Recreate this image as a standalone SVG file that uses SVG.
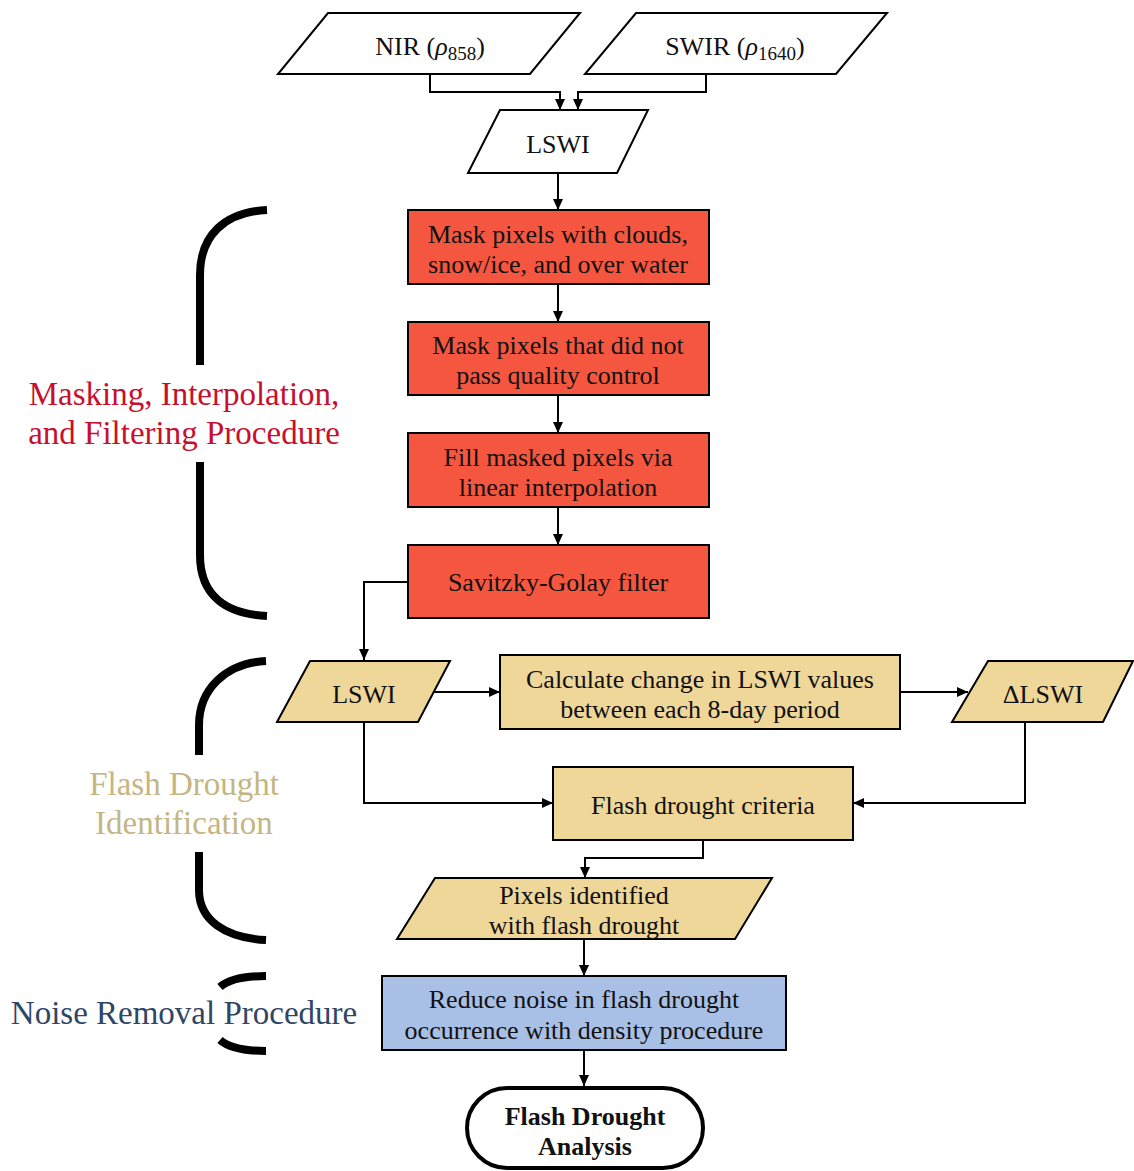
<svg xmlns="http://www.w3.org/2000/svg" width="1134" height="1171" viewBox="0 0 1134 1171">
<defs>
<marker id="arr" markerUnits="userSpaceOnUse" markerWidth="11" markerHeight="10" refX="11" refY="5" orient="auto">
<path d="M0,0 L11,5 L0,10 z" fill="#000"/>
</marker>
<style>
.t{font-family:'Liberation Serif','DejaVu Serif',serif;font-size:26px;fill:#111;text-anchor:middle}
.b{font-weight:bold}
.io{fill:#fff;stroke:#000;stroke-width:2}
.red{fill:#f5563f;stroke:#000;stroke-width:2}
.yel{fill:#efd699;stroke:#000;stroke-width:2}
.blu{fill:#a8bfe6;stroke:#000;stroke-width:2}
.c{fill:none;stroke:#000;stroke-width:2;marker-end:url(#arr)}
.br{fill:none;stroke:#000;stroke-width:8}
.lab{font-family:'Liberation Serif','DejaVu Serif',serif;font-size:33px;text-anchor:middle}
</style>
</defs>
<rect width="1134" height="1171" fill="#fff"/>

<g id="labels">
<text class="lab" x="184" y="405" fill="#c8102e">Masking, Interpolation,</text>
<text class="lab" x="184" y="444" fill="#c8102e">and Filtering Procedure</text>
<text class="lab" x="184" y="795" fill="#c4b682">Flash Drought</text>
<text class="lab" x="184" y="834" fill="#c4b682">Identification</text>
<text class="lab" x="184" y="1024" fill="#2f4664">Noise Removal Procedure</text>
</g>

<g id="brackets">
<path class="br" d="M267,210 C225,212 200,235 200,275 V365"/>
<path class="br" d="M200,462 V555 C200,595 225,614 267,616"/>
<path class="br" d="M266,661 C225,663 199,690 199,725 V755"/>
<path class="br" d="M199,852 V890 C199,920 225,938 266,940"/>
<path class="br" d="M266,976 C245,976 228,980 220,987"/>
<path class="br" d="M220,1040 C228,1047 245,1051 266,1051"/>
</g>

<g id="connectors">
<path class="c" d="M430,73 V92 H560 V110"/>
<path class="c" d="M706,73 V92 H578 V110"/>
<path class="c" d="M558,173 V210"/>
<path class="c" d="M558,284 V322"/>
<path class="c" d="M558,395 V433"/>
<path class="c" d="M558,507 V545"/>
<path class="c" d="M408,582 H364 V660"/>
<path class="c" d="M433,692 H500"/>
<path class="c" d="M900,692 H968"/>
<path class="c" d="M364,722 V803 H553"/>
<path class="c" d="M1025,722 V803 H853"/>
<path class="c" d="M703,840 V858 H585 V878"/>
<path class="c" d="M584,939 V976"/>
<path class="c" d="M584,1050 V1086"/>
</g>

<g id="nir">
<polygon class="io" points="328,13 580,13 530,74 278,74"/>
<text class="t" x="430" y="55">NIR (<tspan font-style="italic">ρ</tspan><tspan font-size="19" dy="5">858</tspan><tspan dy="-5">)</tspan></text>
</g>
<g id="swir">
<polygon class="io" points="636,13 887,13 836,74 585,74"/>
<text class="t" x="735" y="55">SWIR (<tspan font-style="italic">ρ</tspan><tspan font-size="19" dy="5">1640</tspan><tspan dy="-5">)</tspan></text>
</g>
<g id="lswi1">
<polygon class="io" points="500,110 648,110 617,173 468,173"/>
<text class="t" x="558" y="153">LSWI</text>
</g>
<g id="mask1">
<rect class="red" x="408" y="210" width="301" height="74"/>
<text class="t" x="558" y="243">Mask pixels with clouds,</text>
<text class="t" x="558" y="273">snow/ice, and over water</text>
</g>
<g id="mask2">
<rect class="red" x="408" y="322" width="301" height="73"/>
<text class="t" x="558" y="354">Mask pixels that did not</text>
<text class="t" x="558" y="384">pass quality control</text>
</g>
<g id="fill">
<rect class="red" x="408" y="433" width="301" height="74"/>
<text class="t" x="558" y="466">Fill masked pixels via</text>
<text class="t" x="558" y="496">linear interpolation</text>
</g>
<g id="sg">
<rect class="red" x="408" y="545" width="301" height="73"/>
<text class="t" x="558" y="591">Savitzky-Golay filter</text>
</g>
<g id="lswi2">
<polygon class="yel" points="310,661 450,661 418,722 277,722"/>
<text class="t" x="364" y="703">LSWI</text>
</g>
<g id="calc">
<rect class="yel" x="500" y="655" width="400" height="74"/>
<text class="t" x="700" y="688">Calculate change in LSWI values</text>
<text class="t" x="700" y="718">between each 8-day period</text>
</g>
<g id="dlswi">
<polygon class="yel" points="988,661 1133,661 1103,722 952,722"/>
<text class="t" x="1043" y="703">ΔLSWI</text>
</g>
<g id="criteria">
<rect class="yel" x="553" y="767" width="300" height="73"/>
<text class="t" x="703" y="814">Flash drought criteria</text>
</g>
<g id="pixels">
<polygon class="yel" points="435,878 772,878 735,939 397,939"/>
<text class="t" x="584" y="904">Pixels identified</text>
<text class="t" x="584" y="934">with flash drought</text>
</g>
<g id="noise">
<rect class="blu" x="382" y="976" width="404" height="74"/>
<text class="t" x="584" y="1008">Reduce noise in flash drought</text>
<text class="t" x="584" y="1039">occurrence with density procedure</text>
</g>
<g id="analysis">
<rect x="467" y="1088" width="236" height="80" rx="40" ry="40" fill="#fff" stroke="#000" stroke-width="4"/>
<text class="t b" x="585" y="1125">Flash Drought</text>
<text class="t b" x="585" y="1155">Analysis</text>
</g>
</svg>
